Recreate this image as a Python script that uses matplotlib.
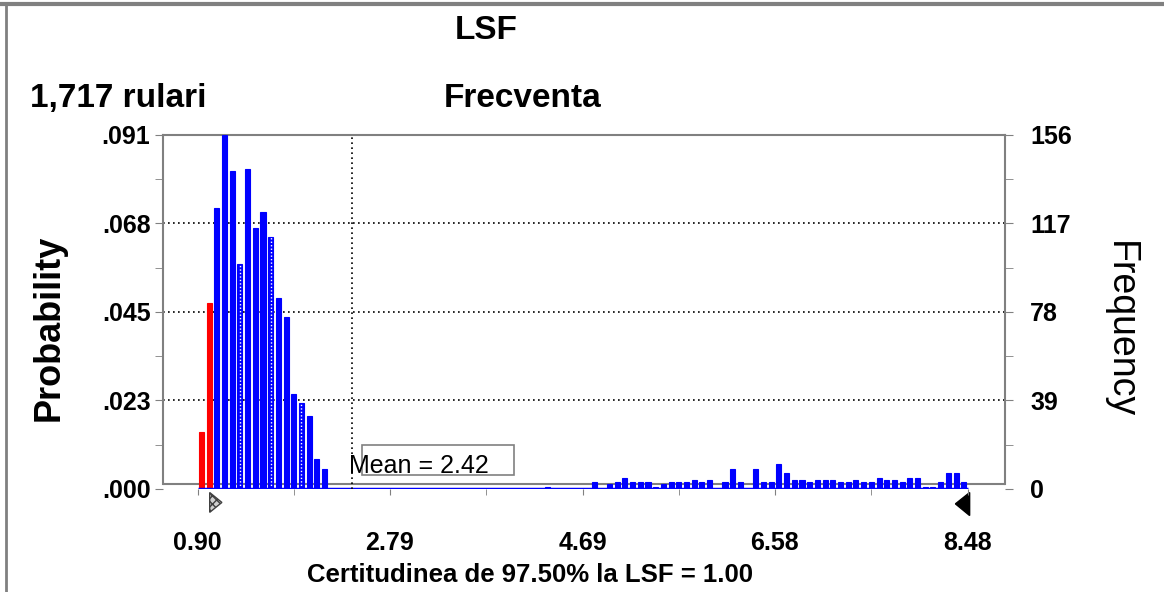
import numpy as np
import matplotlib
matplotlib.use('Agg')
import matplotlib.pyplot as plt
from matplotlib.patches import Rectangle, Polygon
from matplotlib.lines import Line2D
import matplotlib.transforms as mtransforms

plt.rcParams['font.family'] = ['Liberation Sans', 'DejaVu Sans']

# histogram of LSF, 100 bins from 0.90 to 8.48, 1717 runs
x_min, x_max = 0.90, 8.48
n_bins = 100
counts = [25, 82, 124, 156, 140, 99, 141, 115, 122, 111, 84, 76, 42, 38, 32, 13, 9] \
    + [0] * 28 + [1, 0, 0, 0, 0, 0] \
    + [3, 0, 2, 3, 5, 3, 3, 3, 1, 2, 3, 3, 3, 4, 3, 4, 0, 3, 9, 3, 0, 9,
       3, 3, 11, 7, 4, 4, 3, 4, 4, 4, 3, 3, 4, 3, 3, 5, 4, 4, 3, 5, 5, 1, 1, 3, 7, 7, 3]
n_red = 2                # bins below LSF = 1.00
striped_bins = [5, 9, 13]  # bars that show a white dotted stripe
mean_val = 2.42
certainty_low = 1.00

x_ticks = [0.90, 2.79, 4.69, 6.58, 8.48]
x_ticklabels = ['0.90', '2.79', '4.69', '6.58', '8.48']
freq_ticks = [0, 39, 78, 117, 156]
prob_labels = ['.000', '.023', '.045', '.068', '.091']
freq_labels = ['0', '39', '78', '117', '156']

bw = (x_max - x_min) / n_bins
centers = x_min + (np.arange(n_bins) + 0.5) * bw
colors = ['#ff0000' if i < n_red else '#0000ff' for i in range(n_bins)]

fig = plt.figure(figsize=(11.64, 5.92), dpi=100)
ax = fig.add_axes([0.140, 0.174, 0.7234, 0.598])
grey = '#808080'

ax.bar(centers, counts, width=bw * 0.66, color=colors, edgecolor=colors,
       linewidth=0.8, zorder=3)
for b in striped_bins:
    ax.vlines(centers[b], 0, counts[b], colors='white', linestyles=(0, (1, 1.5)),
              linewidth=1, zorder=4)
ax.plot([x_min, x_max], [0, 0], color='#0000ff', lw=2.5, zorder=4, solid_capstyle='butt')

ax.set_xlim(0.56, 8.848)
ax.set_ylim(0, 156)

# grid and mean line
for g in freq_ticks[1:-1]:
    ax.axhline(g, color='black', lw=1.2, ls=(0, (1, 2)), zorder=1)
ax.axvline(mean_val, color='black', lw=1.2, ls=(0, (1, 2)), zorder=5)

# frame
for s in ['top', 'left', 'right']:
    ax.spines[s].set_color(grey)
    ax.spines[s].set_linewidth(1.5)
ax.spines['bottom'].set_visible(False)
ax.spines['left'].set_bounds(2, 156)
ax.spines['right'].set_bounds(2, 156)
ax.axhline(2, color=grey, lw=1.5, zorder=2)

ax.set_xticks(x_ticks)
ax.set_xticklabels(x_ticklabels, fontsize=18, fontweight='bold')
ax.set_xticks([(a + b) / 2 for a, b in zip(x_ticks[:-1], x_ticks[1:])], minor=True)
ax.tick_params(axis='x', which='both', direction='out', length=4, color=grey, pad=26)

ax.set_yticks(freq_ticks)
ax.set_yticklabels(prob_labels, fontsize=18, fontweight='bold')
ax.set_yticks([19.5, 58.5, 97.5, 136.5], minor=True)
ax.tick_params(axis='y', which='both', direction='out', length=6, color=grey, pad=3)
ax.set_ylabel('Probability', fontsize=26, fontweight='bold')
ax.yaxis.set_label_coords(-0.115, 0.455)

ax2 = ax.twinx()
ax2.set_ylim(ax.get_ylim())
for s in ax2.spines.values():
    s.set_visible(False)
ax2.set_yticks(freq_ticks)
ax2.set_yticklabels(freq_labels, fontsize=18, fontweight='bold')
ax2.set_yticks([19.5, 58.5, 97.5, 136.5], minor=True)
ax2.tick_params(axis='y', which='both', direction='out', length=6, color=grey, pad=12)
ax2.set_ylabel('Frequency', fontsize=27, rotation=-90, va='center')
ax2.yaxis.set_label_coords(1.137, 0.45)

# mean box
ax.add_patch(Rectangle((mean_val + 0.1, 6.2), 1.5, 13.2, fill=False,
                       edgecolor=grey, lw=1.2, zorder=6))
ax.text(mean_val - 0.03, 10, 'Mean = 2.42', fontsize=18, va='center', ha='left', zorder=7)

# certainty markers under the axis
tr = mtransforms.blended_transform_factory(ax.transData, ax.transAxes)
ax.add_patch(Polygon([[certainty_low + 0.02, -0.01], [certainty_low + 0.02, -0.066],
                      [certainty_low + 0.14, -0.038]], closed=True, transform=tr,
                     facecolor='#d0d0d0', edgecolor='#404040', hatch='xxxx', lw=1,
                     clip_on=False))
ax.add_patch(Polygon([[x_max + 0.02, -0.01], [x_max + 0.02, -0.075],
                      [x_max - 0.12, -0.042]], closed=True, transform=tr,
                     facecolor='black', edgecolor='black', clip_on=False))

# titles
fig.text(0.418, 0.949, 'LSF', fontsize=24, fontweight='bold', ha='center', va='center')
fig.text(0.026, 0.834, '1,717 rulari', fontsize=24, fontweight='bold', ha='left', va='center')
fig.text(0.449, 0.834, 'Frecventa', fontsize=24, fontweight='bold', ha='center', va='center')
fig.text(0.455, 0.029, 'Certitudinea de 97.50% la LSF = 1.00', fontsize=18.5,
         fontweight='bold', ha='center', va='center')

# outer border
fig.add_artist(Line2D([0, 1], [0.994, 0.994], color=grey, lw=3, transform=fig.transFigure))
fig.add_artist(Line2D([0.005, 0.005], [0, 0.994], color=grey, lw=2, transform=fig.transFigure))

fig.savefig('out.png', dpi=100, facecolor='white')
